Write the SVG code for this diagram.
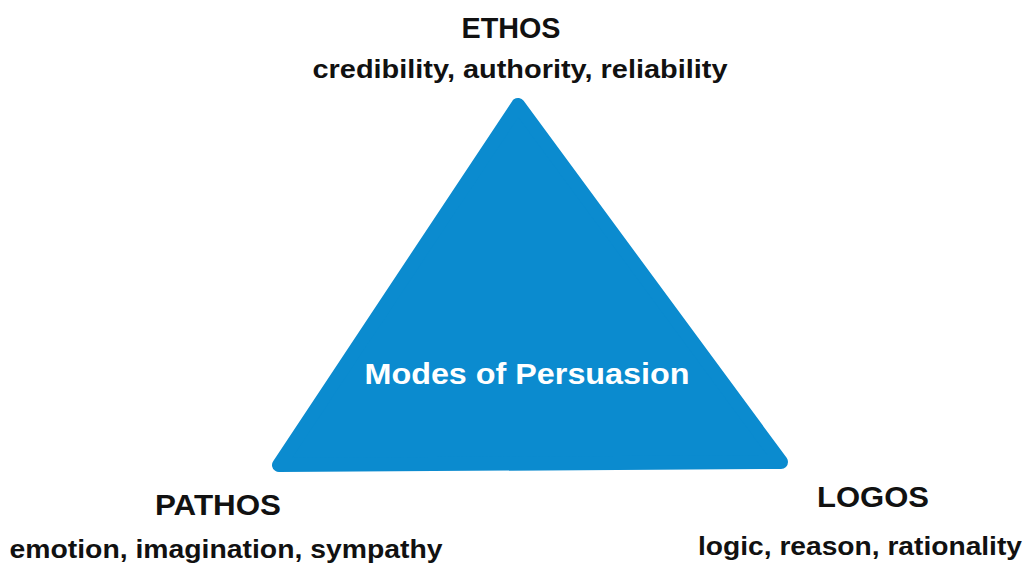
<svg xmlns="http://www.w3.org/2000/svg" width="1026" height="565" viewBox="0 0 1026 565">
<style>
.t{font-family:"Liberation Sans",Arial,sans-serif;font-weight:bold;fill:#111;text-anchor:middle}
.h{font-size:29px}
.s{font-size:25px}
</style>
<rect width="1026" height="565" fill="#fff"/>
<g id="triangle">
<polygon points="518,105 279,465 781,462" fill="#0b8bcf" stroke="#0b8bcf" stroke-width="14" stroke-linejoin="round"/>
<text class="t h" x="527" y="384" fill="#fff" style="fill:#fff" textLength="325" lengthAdjust="spacingAndGlyphs">Modes of Persuasion</text>
</g>
<g id="ethos">
<text class="t h" x="511" y="38" textLength="99" lengthAdjust="spacingAndGlyphs">ETHOS</text>
<text class="t s" x="520" y="78" textLength="415" lengthAdjust="spacingAndGlyphs">credibility, authority, reliability</text>
</g>
<g id="pathos">
<text class="t h" x="218" y="515" textLength="126" lengthAdjust="spacingAndGlyphs">PATHOS</text>
<text class="t s" x="226" y="558" textLength="433" lengthAdjust="spacingAndGlyphs">emotion, imagination, sympathy</text>
</g>
<g id="logos">
<text class="t h" x="873" y="507" textLength="112" lengthAdjust="spacingAndGlyphs">LOGOS</text>
<text class="t s" x="860" y="555" textLength="324" lengthAdjust="spacingAndGlyphs">logic, reason, rationality</text>
</g>
<g id="connectors"></g>
</svg>
